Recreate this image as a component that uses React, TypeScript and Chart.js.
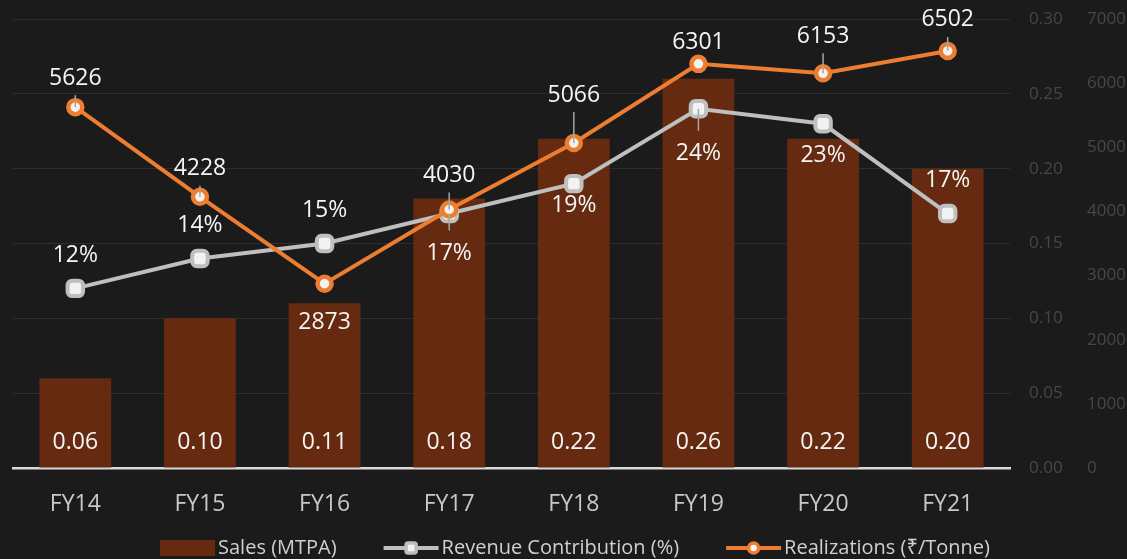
import React, { useEffect, useRef } from 'react';
import { Chart, registerables } from 'chart.js';

Chart.register(...registerables);

// ---------- data ----------
const categories = ['FY14', 'FY15', 'FY16', 'FY17', 'FY18', 'FY19', 'FY20', 'FY21'];
const salesMTPA = [0.06, 0.1, 0.11, 0.18, 0.22, 0.26, 0.22, 0.2];
const revenueContribution = [0.12, 0.14, 0.15, 0.17, 0.19, 0.24, 0.23, 0.17];
const realizations = [5626, 4228, 2873, 4030, 5066, 6301, 6153, 6502];
const seriesNames = ['Sales (MTPA)', 'Revenue Contribution (%)', 'Realizations (₹/Tonne)'];

// ---------- label placement (style) ----------
const realizationLabelDy = [-29, -28, 39, -34, -48, -21, -37, -31];
const realizationLeader = [true, true, false, true, true, false, true, true];
const revenueLabelDy = [-33, -33, -33, 40, 22, 45, 32, -33];
const revenueLeader = [false, false, false, true, false, true, false, false];

const FONT = '"Open Sans", "Noto Sans", "DejaVu Sans", sans-serif';
const BAR_COLOR = '#652a0f';
const ORANGE = '#ed7d31';
const GRAY = '#bfbfbf';
const MARKER_FILL = '#f2f2f2';
const BG = '#1b1b1b';

const backgroundPlugin = {
  id: 'bg',
  beforeDraw(chart: any) {
    const { ctx, width, height } = chart;
    ctx.save();
    ctx.fillStyle = BG;
    ctx.fillRect(0, 0, width, height);
    ctx.restore();
  },
};

const labelsPlugin = {
  id: 'valueLabels',
  afterDatasetsDraw(chart: any) {
    const ctx = chart.ctx;
    ctx.save();
    ctx.font = `23px ${FONT}`;
    ctx.textAlign = 'center';
    ctx.textBaseline = 'middle';

    // leader lines
    ctx.strokeStyle = '#a6a6a6';
    ctx.lineWidth = 1.5;
    const drawLeader = (x: number, py: number, ly: number) => {
      const above = ly < py;
      const y1 = above ? ly + 17 : ly - 23;
      ctx.beginPath();
      ctx.moveTo(x, y1);
      ctx.lineTo(x, py);
      ctx.stroke();
    };
    const revMeta = chart.getDatasetMeta(1);
    const realMeta = chart.getDatasetMeta(2);
    realMeta.data.forEach((pt: any, i: number) => {
      if (realizationLeader[i]) drawLeader(pt.x, pt.y, pt.y + realizationLabelDy[i]);
    });
    revMeta.data.forEach((pt: any, i: number) => {
      if (revenueLeader[i]) drawLeader(pt.x, pt.y, pt.y + revenueLabelDy[i]);
    });

    ctx.fillStyle = '#f5f5f5';
    // bar labels
    const barMeta = chart.getDatasetMeta(0);
    barMeta.data.forEach((bar: any, i: number) => {
      ctx.fillText(salesMTPA[i].toFixed(2), bar.x, bar.base - 25);
    });
    // revenue labels
    revMeta.data.forEach((pt: any, i: number) => {
      ctx.fillText(Math.round(revenueContribution[i] * 100) + '%', pt.x, pt.y + revenueLabelDy[i]);
    });
    // realization labels
    realMeta.data.forEach((pt: any, i: number) => {
      ctx.fillText(String(realizations[i]), pt.x, pt.y + realizationLabelDy[i]);
    });
    ctx.restore();
  },
};

const legendPlugin = {
  id: 'customLegend',
  afterDraw(chart: any) {
    const ctx = chart.ctx;
    ctx.save();
    ctx.font = `20px ${FONT}`;
    ctx.textBaseline = 'middle';
    ctx.textAlign = 'left';
    const y = 548;
    const symW = 55;
    const symGap = 3;
    const itemGap = 47;
    const widths = seriesNames.map((t) => ctx.measureText(t).width);
    const total =
      widths.reduce((a, w) => a + symW + symGap + w, 0) + itemGap * (widths.length - 1);
    let x = 575 - total / 2;
    seriesNames.forEach((name, i) => {
      if (i === 0) {
        ctx.fillStyle = BAR_COLOR;
        ctx.fillRect(x, y - 8, symW, 16);
      } else {
        const color = i === 1 ? GRAY : ORANGE;
        ctx.strokeStyle = color;
        ctx.lineWidth = 4;
        ctx.beginPath();
        ctx.moveTo(x, y);
        ctx.lineTo(x + symW, y);
        ctx.stroke();
        const cx = x + symW / 2;
        ctx.fillStyle = MARKER_FILL;
        ctx.lineWidth = 3.5;
        ctx.beginPath();
        if (i === 1) {
          const h = 5;
          ctx.roundRect(cx - h, y - h, 2 * h, 2 * h, 2);
        } else {
          ctx.arc(cx, y, 5, 0, Math.PI * 2);
        }
        ctx.fill();
        ctx.stroke();
      }
      ctx.fillStyle = '#d0d0d0';
      ctx.fillText(name, x + symW + symGap, y);
      x += symW + symGap + widths[i] + itemGap;
    });
    ctx.restore();
  },
};

export default function App() {
  const canvasRef = useRef<HTMLCanvasElement | null>(null);

  useEffect(() => {
    let chart: Chart | null = null;
    let cancelled = false;
    const build = () => {
      if (cancelled || !canvasRef.current) return;
      chart = new Chart(canvasRef.current, {
        type: 'bar',
        data: {
          labels: categories,
          datasets: [
            {
              type: 'bar',
              label: seriesNames[0],
              data: salesMTPA,
              yAxisID: 'y',
              backgroundColor: BAR_COLOR,
              borderWidth: 0,
              barPercentage: 0.576,
              categoryPercentage: 1,
              order: 3,
            },
            {
              type: 'line',
              label: seriesNames[1],
              data: revenueContribution,
              yAxisID: 'y',
              borderColor: GRAY,
              borderWidth: 4,
              backgroundColor: MARKER_FILL,
              pointStyle: 'rectRounded',
              pointRadius: 9,
              pointBorderWidth: 4,
              pointBorderColor: GRAY,
              pointBackgroundColor: MARKER_FILL,
              tension: 0,
              order: 2,
            },
            {
              type: 'line',
              label: seriesNames[2],
              data: realizations,
              yAxisID: 'y2',
              borderColor: ORANGE,
              borderWidth: 4,
              backgroundColor: MARKER_FILL,
              pointStyle: 'circle',
              pointRadius: 7,
              pointBorderWidth: 4.5,
              pointBorderColor: ORANGE,
              pointBackgroundColor: MARKER_FILL,
              tension: 0,
              order: 1,
            },
          ] as any,
        },
        options: {
          responsive: false,
          animation: false,
          layout: { padding: { left: 10.5, top: 19, bottom: 31, right: 0 } },
          plugins: {
            legend: { display: false },
            tooltip: { enabled: false },
          },
          scales: {
            x: {
              offset: true,
              grid: { display: false, drawTicks: false },
              border: { display: true, color: '#d9d9d9', width: 2.5 },
              ticks: {
                color: '#c8c8c8',
                font: { family: FONT, size: 23 },
                padding: 23,
                maxRotation: 0,
              },
              afterFit: (s: any) => {
                s.height = 60;
              },
            },
            y: {
              position: 'right',
              min: 0,
              max: 0.3,
              ticks: {
                stepSize: 0.05,
                color: '#474747',
                font: { family: FONT, size: 17 },
                padding: 19,
                callback: (v: any) => Number(v).toFixed(2),
              },
              grid: { color: '#2e2e2e', lineWidth: 1, drawTicks: false },
              border: { display: false },
              afterFit: (s: any) => {
                s.width = 70;
                s.paddingTop = 0;
                s.paddingBottom = 0;
              },
            },
            y2: {
              position: 'right',
              min: 0,
              max: 7000,
              ticks: {
                stepSize: 1000,
                color: '#474747',
                font: { family: FONT, size: 17 },
                padding: 7,
                callback: (v: any) => String(v),
              },
              grid: { display: false, drawTicks: false },
              border: { display: false },
              afterFit: (s: any) => {
                s.width = 47;
                s.paddingTop = 0;
                s.paddingBottom = 0;
              },
            },
          },
        } as any,
        plugins: [backgroundPlugin, labelsPlugin, legendPlugin],
      });
    };
    const fonts: any = (document as any).fonts;
    if (fonts && fonts.load) {
      Promise.all([fonts.load(`23px ${FONT}`), fonts.load(`20px ${FONT}`)])
        .catch(() => null)
        .then(build);
    } else {
      build();
    }
    return () => {
      cancelled = true;
      if (chart) chart.destroy();
    };
  }, []);

  return (
    <div style={{ position: 'fixed', left: 0, top: 0, width: 1127, height: 559, background: BG }}>
      <canvas ref={canvasRef} width={1127} height={559} style={{ display: 'block' }} />
    </div>
  );
}
